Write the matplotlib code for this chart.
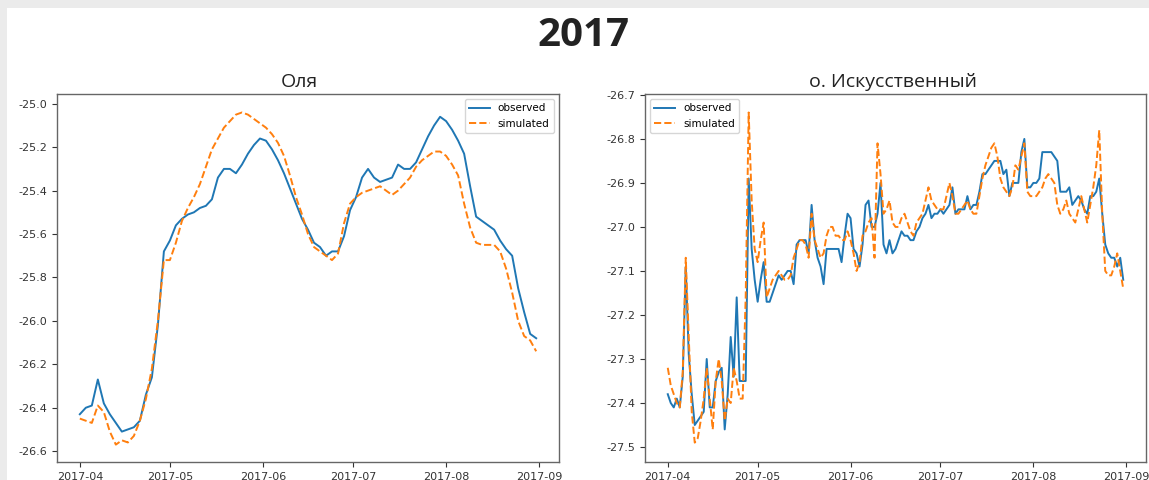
import pandas as pd
import matplotlib
matplotlib.use("Agg")
from matplotlib import pyplot as plt
from matplotlib import dates as mdates
from matplotlib.ticker import MultipleLocator, FormatStrFormatter
from matplotlib.patches import Rectangle

# Оля: values every second day, 2017-04-01 .. 2017-08-31
olya_dates = pd.date_range("2017-04-01", periods=77, freq="2D")
olya_observed = [
    -26.43, -26.40, -26.39, -26.27, -26.38, -26.43, -26.47, -26.51, -26.50, -26.49,
    -26.46, -26.34, -26.26, -26.02, -25.68, -25.63, -25.56, -25.53, -25.51, -25.50,
    -25.48, -25.47, -25.44, -25.34, -25.30, -25.30, -25.32, -25.28, -25.23, -25.19,
    -25.16, -25.17, -25.21, -25.26, -25.32, -25.39, -25.46, -25.53, -25.58, -25.64,
    -25.66, -25.70, -25.68, -25.68, -25.61, -25.49, -25.43, -25.34, -25.30, -25.34,
    -25.36, -25.35, -25.34, -25.28, -25.30, -25.30, -25.27, -25.21, -25.15, -25.10,
    -25.06, -25.08, -25.12, -25.17, -25.23, -25.38, -25.52, -25.54, -25.56, -25.58,
    -25.63, -25.67, -25.70, -25.85, -25.96, -26.06, -26.08,
]
olya_simulated = [
    -26.45, -26.46, -26.47, -26.39, -26.42, -26.51, -26.57, -26.55, -26.56, -26.53,
    -26.46, -26.36, -26.22, -26.00, -25.72, -25.72, -25.64, -25.54, -25.48, -25.43,
    -25.37, -25.29, -25.21, -25.16, -25.11, -25.08, -25.05, -25.04, -25.05, -25.07,
    -25.09, -25.11, -25.14, -25.18, -25.24, -25.33, -25.43, -25.51, -25.60, -25.66,
    -25.68, -25.70, -25.72, -25.69, -25.55, -25.46, -25.43, -25.41, -25.40, -25.39,
    -25.38, -25.40, -25.42, -25.40, -25.37, -25.34, -25.29, -25.26, -25.24, -25.22,
    -25.22, -25.24, -25.28, -25.33, -25.46, -25.57, -25.64, -25.65, -25.65, -25.65,
    -25.68, -25.76, -25.87, -26.00, -26.07, -26.09, -26.14,
]

# о. Искусственный: daily values, 2017-04-01 .. 2017-08-31
isk_dates = pd.date_range("2017-04-01", "2017-08-31", freq="D")
isk_observed = [
    -27.38, -27.40, -27.41, -27.39, -27.41, -27.34, -27.09, -27.29, -27.38, -27.45,
    -27.44, -27.43, -27.42, -27.30, -27.41, -27.41, -27.35, -27.33, -27.32, -27.46,
    -27.38, -27.25, -27.34, -27.16, -27.35, -27.35, -27.35, -26.89, -27.05, -27.12,
    -27.17, -27.12, -27.08, -27.17, -27.17, -27.15, -27.13, -27.11, -27.12, -27.11,
    -27.10, -27.10, -27.13, -27.04, -27.03, -27.03, -27.03, -27.06, -26.95, -27.03,
    -27.07, -27.09, -27.13, -27.05, -27.05, -27.05, -27.05, -27.05, -27.08, -27.02,
    -26.97, -26.98, -27.05, -27.06, -27.09, -27.04, -26.95, -26.94, -27.00, -27.00,
    -26.97, -26.90, -27.04, -27.06, -27.03, -27.06, -27.05, -27.03, -27.01, -27.02,
    -27.02, -27.03, -27.03, -27.01, -27.00, -26.98, -26.97, -26.95, -26.98, -26.97,
    -26.97, -26.96, -26.97, -26.96, -26.95, -26.91, -26.97, -26.96, -26.96, -26.96,
    -26.93, -26.96, -26.95, -26.95, -26.92, -26.88, -26.88, -26.87, -26.86, -26.85,
    -26.85, -26.85, -26.88, -26.87, -26.93, -26.90, -26.90, -26.90, -26.83, -26.80,
    -26.91, -26.91, -26.90, -26.90, -26.89, -26.83, -26.83, -26.83, -26.83, -26.84,
    -26.85, -26.92, -26.92, -26.92, -26.91, -26.95, -26.94, -26.93, -26.94, -26.96,
    -26.97, -26.93, -26.93, -26.92, -26.89, -26.97, -27.04, -27.06, -27.07, -27.07,
    -27.09, -27.07, -27.12,
]
isk_simulated = [
    -27.32, -27.36, -27.38, -27.40, -27.41, -27.33, -27.07, -27.25, -27.42, -27.49,
    -27.48, -27.44, -27.39, -27.32, -27.39, -27.46, -27.35, -27.30, -27.35, -27.44,
    -27.39, -27.40, -27.32, -27.35, -27.39, -27.39, -27.16, -26.74, -26.94, -27.05,
    -27.08, -27.03, -26.99, -27.16, -27.14, -27.12, -27.11, -27.10, -27.11, -27.12,
    -27.12, -27.11, -27.07, -27.05, -27.03, -27.03, -27.04, -27.07, -26.97, -27.03,
    -27.05, -27.07, -27.06, -27.02, -27.00, -27.00, -27.02, -27.02, -27.03, -27.03,
    -27.01, -27.03, -27.06, -27.10, -27.08, -27.02, -27.01, -26.99, -26.98, -27.07,
    -26.81, -26.88, -26.97, -26.96, -26.94, -26.99, -27.00, -27.00, -26.98, -26.97,
    -26.99, -27.01, -27.02, -26.99, -26.98, -26.97, -26.94, -26.91, -26.94, -26.95,
    -26.96, -26.96, -26.96, -26.93, -26.90, -26.93, -26.97, -26.97, -26.96, -26.95,
    -26.94, -26.96, -26.97, -26.97, -26.93, -26.89, -26.86, -26.84, -26.82, -26.81,
    -26.84, -26.89, -26.91, -26.92, -26.93, -26.91, -26.86, -26.87, -26.84, -26.81,
    -26.92, -26.93, -26.93, -26.93, -26.92, -26.91, -26.89, -26.88, -26.89, -26.90,
    -26.95, -26.97, -26.96, -26.94, -26.97, -26.98, -26.99, -26.96, -26.93, -26.96,
    -26.99, -26.95, -26.91, -26.86, -26.78, -26.97, -27.10, -27.11, -27.11, -27.09,
    -27.06, -27.10, -27.14,
]

title_font = ["Open Sans", "Noto Sans", "DejaVu Sans"]


def draw_station(ax, dates, observed, simulated, name, ylim, step, legend_loc, title_x):
    ax.plot(dates, observed, color="#1f77b4", lw=1.4, label="observed")
    ax.plot(dates, simulated, color="#ff7f0e", lw=1.4, ls="--", label="simulated")
    ax.set_ylim(*ylim)
    span = dates[-1] - dates[0]
    ax.set_xlim(dates[0] - span * 0.05, dates[-1] + span * 0.05)
    ax.xaxis.set_major_locator(mdates.MonthLocator())
    ax.xaxis.set_major_formatter(mdates.DateFormatter("%Y-%m"))
    ax.yaxis.set_major_locator(MultipleLocator(step))
    ax.yaxis.set_major_formatter(FormatStrFormatter("%.1f"))
    ax.tick_params(labelsize=8, colors="#333333", length=3.5, width=0.8)
    for sp in ax.spines.values():
        sp.set_color("#666666")
        sp.set_linewidth(1.0)
    ax.set_title(name, family=title_font, fontsize=14, color="#222222", pad=5, x=title_x)
    ax.legend(loc=legend_loc, fontsize=7.5, framealpha=0.8, edgecolor="#cccccc")


fig = plt.figure(figsize=(11.49, 4.8), dpi=100, facecolor="#ebebeb")
fig.patches.append(Rectangle((7 / 1149, 0), 1, 1 - 8 / 480, transform=fig.transFigure,
                             facecolor="white", edgecolor="none", zorder=-10))

ax1 = fig.add_axes([57 / 1149, 18 / 480, 502 / 1149, 368 / 480])
ax2 = fig.add_axes([645 / 1149, 18 / 480, 501 / 1149, 368 / 480])

draw_station(ax1, olya_dates, olya_observed, olya_simulated, "Оля",
             (-26.65, -24.955), 0.2, "upper right", 0.483)
draw_station(ax2, isk_dates, isk_observed, isk_simulated, "о. Искусственный",
             (-27.534, -26.698), 0.1, "upper left", 0.495)

fig.text(583 / 1149, 1 - 36 / 480, "2017", family=title_font, fontsize=29,
         fontweight="bold", color="#222222", ha="center", va="center")

fig.savefig("out.png", dpi=100, facecolor=fig.get_facecolor())
